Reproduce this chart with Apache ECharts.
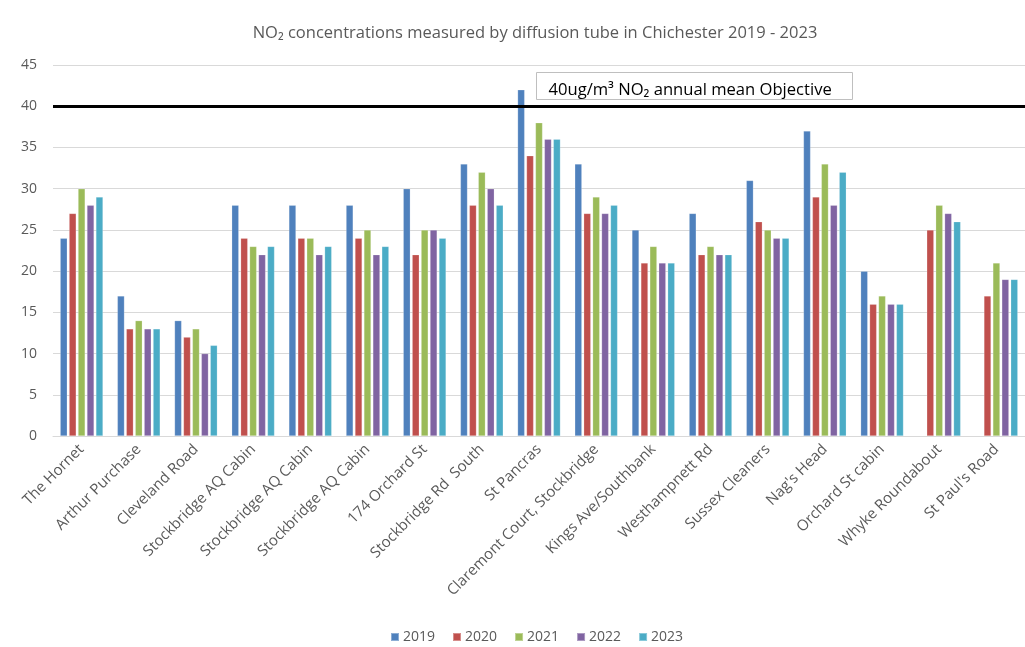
<!DOCTYPE html>
<html>
<head>
<meta charset="utf-8">
<script src="https://cdn.jsdelivr.net/npm/echarts@6/dist/echarts.min.js"></script>
<style>
html,body{margin:0;padding:0;background:#fff;}
#chart{width:1025px;height:647px;}
</style>
</head>
<body>
<div id="chart"></div>
<script>
const categories = ["The Hornet","Arthur Purchase","Cleveland Road","Stockbridge AQ Cabin","Stockbridge AQ Cabin","Stockbridge AQ Cabin","174 Orchard St","Stockbridge Rd  South","St Pancras","Claremont Court, Stockbridge","Kings Ave/Southbank","Westhampnett Rd","Sussex Cleaners","Nag's Head","Orchard St cabin","Whyke Roundabout","St Paul's Road"];
const years = ["2019","2020","2021","2022","2023"];
const v2019 = [24,17,14,28,28,28,30,33,42,33,25,27,31,37,20,null,null];
const v2020 = [27,13,12,24,24,24,22,28,34,27,21,22,26,29,16,25,17];
const v2021 = [30,14,13,23,24,25,25,32,38,29,23,23,25,33,17,28,21];
const v2022 = [28,13,10,22,22,22,25,30,36,27,21,22,24,28,16,27,19];
const v2023 = [29,13,11,23,23,23,24,28,36,28,21,22,24,32,16,26,19];
const yTicks = [0,5,10,15,20,25,30,35,40,45];
const objective = 40;
const titleText = "NO₂ concentrations measured by diffusion tube in Chichester 2019 - 2023";
const annotationText = "40ug/m³ NO₂ annual mean Objective";

const colors = ["#4F81BD","#C0504D","#9BBB59","#8064A2","#4BACC6"];
const seriesValues = [v2019,v2020,v2021,v2022,v2023];
const FONT = "'Open Sans', Lato, sans-serif";

const chart = echarts.init(document.getElementById('chart'), null, {renderer:'canvas'});
const series = years.map((y,i)=>({
  name: y,
  type: 'bar',
  data: seriesValues[i],
  barGap: '25%',
  barCategoryGap: '25%',
  itemStyle: {color: colors[i], borderColor: 'rgba(255,255,255,0.35)', borderWidth: 0.6},
  emphasis: {disabled: true}
}));
series[0].markLine = {
  silent: true,
  symbol: ['none','none'],
  label: {show: false},
  lineStyle: {color: '#000', width: 3, type: 'solid'},
  data: [{yAxis: objective}]
};

chart.setOption({
  animation: false,
  backgroundColor: '#fff',
  color: colors,
  title: {
    text: titleText,
    left: 530, top: 20, textAlign: 'center',
    textStyle: {fontFamily: FONT, fontSize: 16.5, fontWeight: 'normal', color: '#595959'}
  },
  legend: {
    data: years,
    bottom: -2, left: 385,
    itemWidth: 8, itemHeight: 8, itemGap: 17,
    icon: 'rect',
    textStyle: {fontFamily: FONT, fontSize: 14, color: '#595959', padding: [0,0,0,-1]}
  },
  grid: {left: 53, top: 65, width: 978, height: 371, containLabel: false},
  xAxis: {
    type: 'category',
    data: categories,
    axisTick: {show: false},
    axisLine: {show: true, lineStyle: {color: '#d9d9d9', width: 1}},
    axisLabel: {
      interval: 0, rotate: 45, margin: 11,
      fontFamily: FONT, fontSize: 15, color: '#595959'
    }
  },
  yAxis: {
    type: 'value',
    min: yTicks[0], max: yTicks[yTicks.length-1], interval: 5,
    axisLine: {show: false},
    axisTick: {show: false},
    splitLine: {lineStyle: {color: '#d9d9d9', width: 1}},
    axisLabel: {margin: 16, fontFamily: FONT, fontSize: 14, color: '#595959'}
  },
  graphic: [{
    type: 'group',
    left: 536, top: 72,
    children: [
      {type: 'rect', shape: {x: 0, y: 0, width: 316, height: 27},
       style: {fill: '#fff', stroke: '#bfbfbf', lineWidth: 1}},
      {type: 'text', x: 12, y: 18,
       style: {text: annotationText, fontFamily: FONT, fontSize: 16.6, fill: '#000', textVerticalAlign: 'middle', verticalAlign: 'middle'}}
    ]
  }],
  series: series
});
</script>
</body>
</html>
